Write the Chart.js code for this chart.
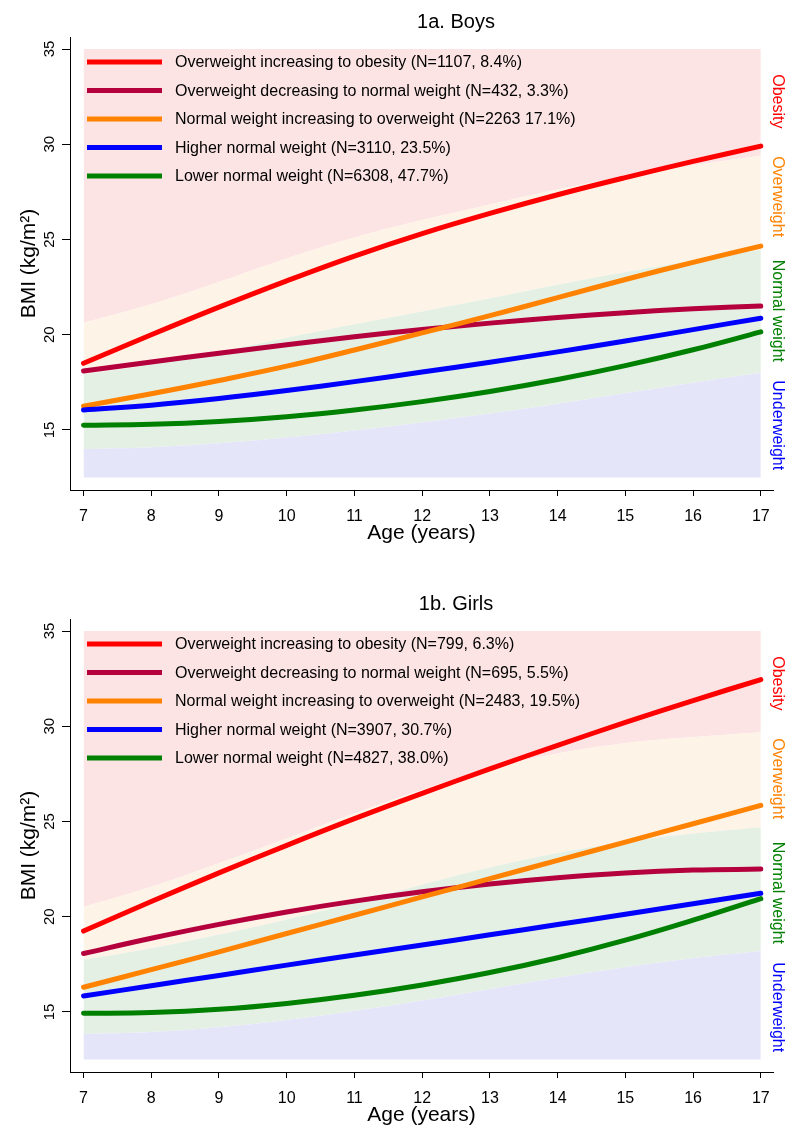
<!DOCTYPE html>
<html>
<head>
<meta charset="utf-8">
<script src="https://cdn.jsdelivr.net/npm/chart.js@4"></script>
<style>
  html, body { margin: 0; padding: 0; background: #fff; }
  body { width: 800px; height: 1139px; position: relative; overflow: hidden; }
  canvas { position: absolute; left: 0; }
  #boys { top: 0; }
  #girls { top: 582px; }
</style>
</head>
<body>
<canvas id="boys" width="800" height="557"></canvas>
<canvas id="girls" width="800" height="557"></canvas>
<script>
const ages = [7, 8, 9, 10, 11, 12, 13, 14, 15, 16, 17];
const yTicks = [15, 20, 25, 30, 35];
const bandBottom = 12.5;
const bandTop = 35;

// boys trajectories
const boysObeseInc  = [18.5, 20.0, 21.45, 22.83, 24.13, 25.31, 26.37, 27.35, 28.25, 29.1, 29.9];
const boysOverDec   = [18.1, 18.57, 19.03, 19.47, 19.89, 20.27, 20.61, 20.91, 21.16, 21.36, 21.51];
const boysNormInc   = [16.25, 16.9, 17.6, 18.35, 19.2, 20.1, 21.0, 21.95, 22.9, 23.8, 24.65];
const boysHighNorm  = [16.05, 16.3, 16.65, 17.07, 17.54, 18.04, 18.56, 19.1, 19.67, 20.27, 20.87];
const boysLowNorm   = [15.25, 15.3, 15.45, 15.7, 16.05, 16.49, 17.02, 17.65, 18.38, 19.21, 20.15];

// girls trajectories
const girlsObeseInc = [19.25, 20.8, 22.3, 23.75, 25.15, 26.48, 27.76, 29.0, 30.2, 31.35, 32.45];
const girlsOverDec  = [18.07, 18.87, 19.6, 20.25, 20.82, 21.31, 21.72, 22.05, 22.3, 22.45, 22.5];
const girlsNormInc  = [16.3, 17.22, 18.16, 19.12, 20.08, 21.04, 22.0, 22.96, 23.92, 24.88, 25.85];
const girlsHighNorm = [15.84, 16.38, 16.92, 17.46, 17.99, 18.52, 19.05, 19.59, 20.13, 20.68, 21.23];
const girlsLowNorm  = [14.93, 14.97, 15.14, 15.45, 15.88, 16.42, 17.07, 17.85, 18.77, 19.82, 20.95];

// weight status cut-offs
const boysThin   = [14.0, 14.1, 14.3, 14.6, 14.97, 15.39, 15.86, 16.38, 16.93, 17.48, 18.0];
const boysOver   = [17.92, 18.44, 19.10, 19.84, 20.55, 21.22, 21.91, 22.62, 23.29, 23.90, 24.46];
const boysObese  = [20.63, 21.60, 22.77, 24.00, 25.10, 26.02, 26.84, 27.63, 28.30, 28.88, 29.41];
const girlsThin  = [13.85, 13.95, 14.2, 14.58, 15.05, 15.6, 16.2, 16.8, 17.35, 17.82, 18.2];
const girlsOver  = [17.75, 18.35, 19.07, 19.86, 20.74, 21.68, 22.58, 23.34, 23.94, 24.37, 24.70];
const girlsObese = [20.51, 21.57, 22.81, 24.11, 25.42, 26.67, 27.76, 28.57, 29.11, 29.43, 29.69];

const boysLabels = [
  "Overweight increasing to obesity (N=1107, 8.4%)",
  "Overweight decreasing to normal weight (N=432, 3.3%)",
  "Normal weight increasing to overweight (N=2263 17.1%)",
  "Higher normal weight (N=3110, 23.5%)",
  "Lower normal weight (N=6308, 47.7%)"
];
const girlsLabels = [
  "Overweight increasing to obesity (N=799, 6.3%)",
  "Overweight decreasing to normal weight (N=695, 5.5%)",
  "Normal weight increasing to overweight (N=2483, 19.5%)",
  "Higher normal weight (N=3907, 30.7%)",
  "Lower normal weight (N=4827, 38.0%)"
];
const zoneNames = ["Obesity", "Overweight", "Normal weight", "Underweight"];

const lineColors = ["#ff0000", "#b4003c", "#ff8200", "#0000ff", "#008000"];
const zoneColors = ["#ff0000", "#ff8200", "#008000", "#0000ff"];
const bandColors = ["rgb(229,229,250)", "rgb(229,240,228)", "rgb(254,243,231)", "rgb(253,228,228)"];
const FONT = '"Liberation Sans", Arial, sans-serif';

function pts(vals) {
    return ages.map((a, i) => ({x: a, y: vals[i]}));
}

// titles, rotated y tick labels, zone names and the legend
const decor = {
    id: 'decor',
    afterDraw(chart, args, opts) {
        const ctx = chart.ctx;
        const y = chart.scales.y;
        ctx.save();
        ctx.fillStyle = '#000';
        ctx.textAlign = 'center';
        ctx.textBaseline = 'middle';

        ctx.font = '15px ' + FONT;
        y.ticks.forEach(t => {
            ctx.save();
            ctx.translate(50, y.getPixelForValue(t.value));
            ctx.rotate(-Math.PI / 2);
            ctx.fillText(String(t.value), 0, 0);
            ctx.restore();
        });

        ctx.font = '20px ' + FONT;
        ctx.fillText(opts.title, 456, 22);

        ctx.font = '16px ' + FONT;
        opts.zoneAt.forEach((v, i) => {
            ctx.save();
            ctx.translate(777, y.getPixelForValue(v));
            ctx.rotate(Math.PI / 2);
            ctx.fillStyle = zoneColors[i];
            ctx.fillText(zoneNames[i], 0, 0);
            ctx.restore();
        });

        ctx.textAlign = 'left';
        ctx.lineWidth = 5;
        opts.labels.forEach((lab, i) => {
            let ly = 62 + i * 28.5;
            ctx.strokeStyle = lineColors[i];
            ctx.beginPath();
            ctx.moveTo(87, ly);
            ctx.lineTo(162, ly);
            ctx.stroke();
            ctx.fillStyle = '#000';
            ctx.fillText(lab, 175, ly + 1);
        });
        ctx.restore();
    }
};

function makePanel(id, title, series, labels, thin, over, obese) {
    let datasets = [];
    series.forEach((s, i) => {
        datasets.push({
            data: pts(s),
            borderColor: lineColors[i],
            borderWidth: 5,
            borderCapStyle: 'round',
            borderJoinStyle: 'round',
            pointRadius: 0,
            tension: 0.4,
            fill: false,
            order: 5 - i
        });
    });
    let base = series.length;
    let bounds = [ages.map(() => bandBottom), thin, over, obese, ages.map(() => bandTop)];
    bounds.forEach((b, i) => {
        datasets.push({
            data: pts(b),
            borderColor: 'transparent',
            borderWidth: 0,
            pointRadius: 0,
            tension: 0.4,
            backgroundColor: i > 0 ? bandColors[i - 1] : 'transparent',
            fill: i > 0 ? base + i - 1 : false,
            order: 20 + i
        });
    });

    new Chart(document.getElementById(id), {
        type: 'line',
        data: {datasets: datasets},
        plugins: [decor],
        options: {
            responsive: false,
            animation: false,
            events: [],
            devicePixelRatio: 1,
            layout: {padding: {left: 0, right: 27, top: 37, bottom: 7}},
            plugins: {
                legend: {display: false},
                tooltip: {enabled: false},
                decor: {title: title, labels: labels, zoneAt: [32.25, 27.25, 21.25, 15.25]}
            },
            scales: {
                x: {
                    type: 'linear',
                    min: 6.8,
                    max: 17.18,
                    afterBuildTicks: s => { s.ticks = ages.map(v => ({value: v})); },
                    afterFit: s => { s.height = 60; },
                    grid: {drawOnChartArea: false, tickLength: 6, tickColor: '#000'},
                    border: {color: '#000', width: 1},
                    ticks: {font: {size: 16, family: FONT}, color: '#000', padding: 11, maxRotation: 0, autoSkip: false},
                    title: {display: true, text: 'Age (years)', color: '#000',
                            font: {size: 21, family: FONT}, padding: {top: 0, bottom: 4}}
                },
                y: {
                    min: 11.85,
                    max: 35.63,
                    afterBuildTicks: s => { s.ticks = yTicks.map(v => ({value: v})); },
                    afterFit: s => { s.width = 70; },
                    grid: {drawOnChartArea: false, tickLength: 8, tickColor: '#000'},
                    border: {color: '#000', width: 1},
                    ticks: {display: false},
                    title: {display: true, text: 'BMI (kg/m²)', color: '#000',
                            font: {size: 21, family: FONT}, padding: {top: 17, bottom: 0}}
                }
            }
        }
    });
}

makePanel('boys', '1a. Boys',
    [boysObeseInc, boysOverDec, boysNormInc, boysHighNorm, boysLowNorm],
    boysLabels, boysThin, boysOver, boysObese);
makePanel('girls', '1b. Girls',
    [girlsObeseInc, girlsOverDec, girlsNormInc, girlsHighNorm, girlsLowNorm],
    girlsLabels, girlsThin, girlsOver, girlsObese);
</script>
</body>
</html>
